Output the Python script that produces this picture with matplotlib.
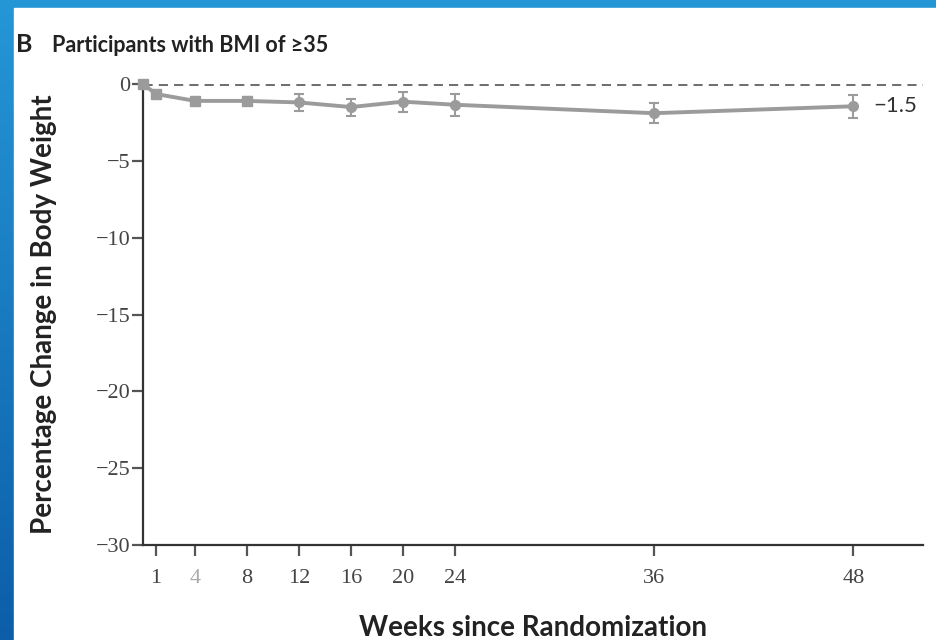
import numpy as np
import matplotlib
matplotlib.use('Agg')
import matplotlib.pyplot as plt
from matplotlib.colors import LinearSegmentedColormap
from matplotlib.patches import Rectangle

# data
weeks = [0, 1, 4, 8, 12, 16, 20, 24, 36, 48]
change = [0.0, -0.65, -1.1, -1.1, -1.2, -1.5, -1.15, -1.35, -1.9, -1.45]
err = [0.0, 0.15, 0.15, 0.25, 0.55, 0.55, 0.65, 0.7, 0.65, 0.75]
xticks = [1, 4, 8, 12, 16, 20, 24, 36, 48]
yticks = [0, -5, -10, -15, -20, -25, -30]
final_label = '\u22121.5'

sans = ['Lato', 'DejaVu Sans']
serif = ['Liberation Serif', 'DejaVu Serif']

fig = plt.figure(figsize=(9.36, 6.4), dpi=100)

# blue frame behind a white panel
bg = fig.add_axes([0, 0, 1, 1], zorder=-10)
grad = np.linspace(0, 1, 256).reshape(-1, 1)
cmap = LinearSegmentedColormap.from_list('bl', ['#2597d6', '#0c5ea8'])
bg.imshow(grad, aspect='auto', cmap=cmap, extent=[0, 1, 0, 1], origin='upper')
bg.add_patch(Rectangle((14 / 936, 0), 1, 1 - 8 / 640, color='white'))
bg.set_xlim(0, 1)
bg.set_ylim(0, 1)
bg.axis('off')

ax = fig.add_axes([143 / 936, 1 - 545 / 640, (923 - 143) / 936, (545 - 84) / 640])
ax.patch.set_alpha(0)

# piecewise x scale: later weeks are spaced wider than the first 24
k = 16.6 / 13.0
def fwd(w):
    w = np.asarray(w, dtype=float)
    return np.where(w <= 24, w, 24 + (w - 24) * k)
def inv(v):
    v = np.asarray(v, dtype=float)
    return np.where(v <= 24, v, 24 + (v - 24) / k)
ax.set_xscale('function', functions=(fwd, inv))

grey = '#9b9b9b'
ax.axhline(0, color='#707070', lw=2.2, ls=(0, (3.0, 2.0)), zorder=1)
ax.errorbar(weeks, change, yerr=err, fmt='-', color=grey, lw=2.8,
            elinewidth=1.5, capsize=3.5, capthick=1.5, zorder=3, clip_on=False)
ax.plot(weeks[:4], change[:4], 's', color=grey, ms=7, zorder=4, clip_on=False)
ax.plot(weeks[4:], change[4:], 'o', color=grey, ms=7, zorder=4, clip_on=False)

ax.text(49.2, change[-1], final_label, fontsize=16, family=sans,
        color='#333333', va='center', ha='left')

ax.set_xlim(0, 52.2)
ax.set_ylim(-30, 0)

for s in ['top', 'right']:
    ax.spines[s].set_visible(False)
for s in ['left', 'bottom']:
    ax.spines[s].set_color('#333333')
    ax.spines[s].set_linewidth(1.6)

ax.set_xticks(xticks)
ax.set_xticklabels([str(t) for t in xticks], family=serif, fontsize=16, color='#444444')
ax.set_yticks(yticks)
ax.set_yticklabels(['0' if t == 0 else '\u2212' + str(-t) for t in yticks],
                   family=serif, fontsize=16, color='#444444')
ax.tick_params(axis='x', length=8, width=1.6, color='#555555', pad=9)
ax.tick_params(axis='y', length=8, width=1.6, color='#555555', pad=1)
ax.get_xticklabels()[1].set_color('#aaaaaa')

ax.set_xlabel('Weeks since Randomization', family=sans, fontweight='bold',
              fontsize=20, color='#222222', labelpad=20)
ax.set_ylabel('Percentage Change in Body Weight', family=sans, fontweight='bold',
              fontsize=20, color='#222222', labelpad=28)

fig.text(16 / 936, 1 - 45 / 640, 'B', family=sans, fontweight='bold',
         fontsize=18, color='#222222', va='center')
fig.text(52 / 936, 1 - 45 / 640, 'Participants with BMI of \u226535', family=sans,
         fontweight='bold', fontsize=15.5, color='#222222', va='center')

fig.savefig('out.png', dpi=100)
